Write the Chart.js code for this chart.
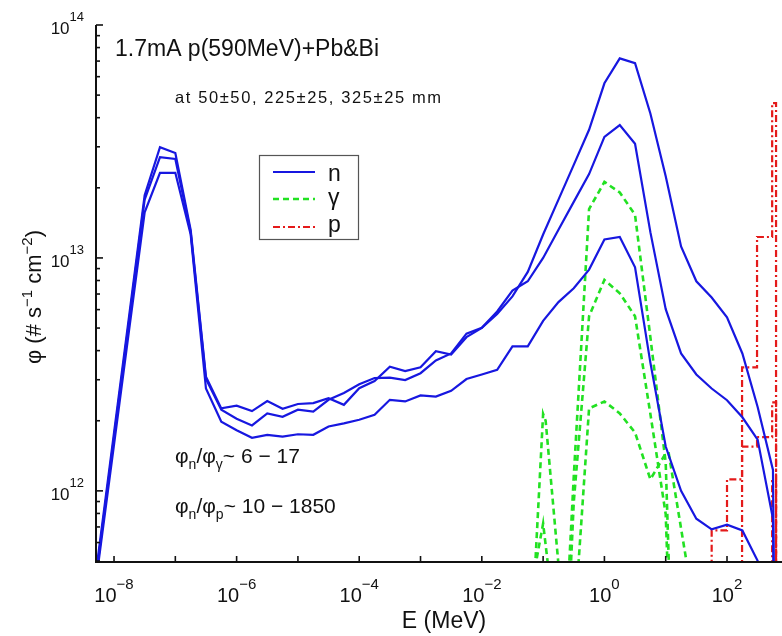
<!DOCTYPE html>
<html><head><meta charset="utf-8">
<script src="https://cdn.jsdelivr.net/npm/chart.js@4.4.0/dist/chart.umd.min.js"></script>
<style>html,body{margin:0;padding:0;background:#fff;}canvas{display:block;}</style>
</head><body>
<canvas id="c" width="782" height="636"></canvas>
<script>
// ---------- data (energies in MeV, fluxes in # s^-1 cm^-2) ----------
const energyN = [3.16e-9,5.62e-9,1e-8,1.78e-8,3.16e-8,5.62e-8,1e-7,1.78e-7,3.16e-7,5.62e-7,
  1e-6,1.78e-6,3.16e-6,5.62e-6,1e-5,1.78e-5,3.16e-5,5.62e-5,1e-4,1.78e-4,
  3.16e-4,5.62e-4,1e-3,1.78e-3,3.16e-3,5.62e-3,0.01,0.0178,0.0316,0.0562,
  0.1,0.178,0.316,0.562,1,1.78,3.16,5.62,10,17.8,31.6,56.2,100,178,316,562,631];
const fluxN1 = [1.70e11,5.50e11,1.78e12,5.75e12,1.86e13,2.99e13,2.82e13,1.32e13,3.09e12,2.26e12,
  2.32e12,2.20e12,2.43e12,2.25e12,2.36e12,2.38e12,2.50e12,2.34e12,2.76e12,2.96e12,
  3.41e12,3.27e12,3.39e12,3.98e12,3.85e12,4.57e12,5.01e12,5.75e12,6.84e12,8.71e12,
  1.26e13,1.78e13,2.51e13,3.55e13,5.62e13,7.19e13,6.86e13,4.17e13,2.24e13,1.12e13,
  7.94e12,6.76e12,5.56e12,3.89e12,2.29e12,1.23e12,3.16e10];
const fluxN2 = [1.62e11,5.25e11,1.70e12,5.50e12,1.78e13,2.71e13,2.66e13,1.29e13,3.02e12,2.23e12,
  2.04e12,1.91e12,2.15e12,2.08e12,2.23e12,2.19e12,2.46e12,2.63e12,2.87e12,3.05e12,
  3.06e12,2.99e12,3.20e12,3.63e12,3.89e12,4.73e12,5.01e12,5.89e12,7.24e12,7.94e12,
  1.00e13,1.32e13,1.74e13,2.29e13,3.31e13,3.72e13,3.09e13,1.29e13,6.03e12,3.89e12,
  3.16e12,2.75e12,2.45e12,2.07e12,1.66e12,7.59e11,3.16e10];
const fluxN3 = [1.58e11,5.01e11,1.58e12,5.01e12,1.57e13,2.32e13,2.32e13,1.26e13,2.75e12,1.98e12,
  1.82e12,1.69e12,1.74e12,1.71e12,1.75e12,1.74e12,1.89e12,1.95e12,2.02e12,2.12e12,
  2.46e12,2.42e12,2.57e12,2.54e12,2.69e12,3.02e12,3.16e12,3.31e12,4.17e12,4.17e12,
  5.37e12,6.46e12,7.41e12,8.91e12,1.20e13,1.23e13,9.12e12,3.55e12,1.55e12,1.00e12,
  7.59e11,6.84e11,7.16e11,6.76e11,5.01e11,2.00e11,3.16e10];

const energyG1 = [0.178,0.316,0.562,1,1.78,3.16,5.62,10,17.8];
const fluxG1   = [6.31e10,1.15e12,1.62e13,2.12e13,1.91e13,1.53e13,4.57e12,1.32e12,1e10];
const energyG2 = [0.0562,0.1,0.11,0.19,0.195,0.2,0.316,0.562,1,1.78,3.16,5.62,10,17.8];
const fluxG2   = [1.17e11,2.14e12,2.0e12,3.98e11,null,6.31e10,8.91e11,5.62e12,8.05e12,7.05e12,5.62e12,2.14e12,7.94e11,1e10];
const energyG3 = [0.0562,0.1,0.178,0.316,0.562,1,1.78,3.16,5.62,10,11.2,31.6];
const fluxG3   = [3.16e11,7.24e11,2.0e11,2.45e11,2.26e12,2.42e12,2.15e12,1.78e12,1.12e12,1.45e12,1.45e12,2.75e11];

const protonEdges = [56.2,100,176,309,545,631];
const fluxP1 = [null,null,3.39e12,1.23e13,4.62e13];
const fluxP2 = [6.76e11,1.12e12,1.55e12,1.70e12,2.4e12];
const fluxP3 = [null,null,null,null,1.1e12];

const xTickExps = [-8,-6,-4,-2,0,2];
const yTickExps = [12,13,14];
const xRange = [5.08e-9, 789];
const yRange = [4.95e11, 1e14];
const legendLabels = ['n','γ','p'];

// ---------- styles ----------
const BLUE = '#1717e0', GREEN = '#22e122', RED = '#e41a1a';
const FONT = '"Liberation Sans", Arial, Helvetica, sans-serif';
const FLOOR = 1e10;

function pts(xs, ys){ return xs.map((x,i)=>({x:x, y:ys[i]})); }
function histo(edges, vals){
  const out = [{x:edges[0], y:FLOOR}];
  vals.forEach((v,i)=>{ const y = v==null?FLOOR:v; out.push({x:edges[i],y:y}); out.push({x:edges[i+1],y:y}); });
  out.push({x:edges[edges.length-1], y:FLOOR});
  return out;
}
const nStyle = {borderColor:BLUE, borderWidth:2.2};
const gStyle = {borderColor:GREEN, borderWidth:2.6, borderDash:[6,4]};
const pStyle = {borderColor:RED, borderWidth:2.2, borderDash:[7,3,2,3]};

const datasets = [
  Object.assign({label:'n', data:pts(energyN,fluxN1)}, nStyle),
  Object.assign({label:'n2', data:pts(energyN,fluxN2)}, nStyle),
  Object.assign({label:'n3', data:pts(energyN,fluxN3)}, nStyle),
  Object.assign({label:'γ', data:pts(energyG1,fluxG1)}, gStyle),
  Object.assign({label:'γ2', data:pts(energyG2,fluxG2)}, gStyle),
  Object.assign({label:'γ3', data:pts(energyG3,fluxG3)}, gStyle),
  Object.assign({label:'p', data:histo(protonEdges,fluxP1)}, pStyle),
  Object.assign({label:'p2', data:histo(protonEdges,fluxP2)}, pStyle),
  Object.assign({label:'p3', data:histo(protonEdges,fluxP3)}, pStyle)
];

function runsWidth(ctx, runs){ let w=0; for(const r of runs){ ctx.font=r.size+'px '+FONT; w+=ctx.measureText(r.t).width; } return w; }
function drawRuns(ctx, x, y, runs, align){
  const w = runsWidth(ctx, runs);
  let cx = align==='right' ? x-w : align==='center' ? x-w/2 : x;
  ctx.textAlign='left'; ctx.textBaseline='alphabetic';
  for(const r of runs){ ctx.font=r.size+'px '+FONT; ctx.fillText(r.t, cx, y+(r.dy||0)); cx+=ctx.measureText(r.t).width; }
}
function expText(e){ return e<0 ? '\u2212'+(-e) : String(e); }

const decor = {
  id:'decor',
  afterDraw(chart){
    const ctx = chart.ctx, a = chart.chartArea, xs = chart.scales.x, ys = chart.scales.y;
    ctx.save();
    ctx.strokeStyle='#111'; ctx.fillStyle='#111';
    // axes
    ctx.lineWidth=2;
    ctx.beginPath(); ctx.moveTo(a.left, a.top); ctx.lineTo(a.left, a.bottom); ctx.lineTo(a.right, a.bottom); ctx.stroke();
    // y ticks (major + minor)
    ctx.lineWidth=1.6;
    for(let e=11;e<=14;e++){ for(let k=1;k<=9;k++){
      const v=k*Math.pow(10,e); if(v<ys.min*0.999||v>ys.max*1.001) continue;
      const py=ys.getPixelForValue(v), len=(k===1)?7:4;
      ctx.beginPath(); ctx.moveTo(a.left, py); ctx.lineTo(a.left+len, py); ctx.stroke();
    }}
    // x ticks
    for(let e=-8;e<=2;e++){
      const px=xs.getPixelForValue(Math.pow(10,e));
      ctx.beginPath(); ctx.moveTo(px, a.bottom); ctx.lineTo(px, a.bottom-6); ctx.stroke();
    }
    // tick labels
    for(const e of xTickExps){
      const px=xs.getPixelForValue(Math.pow(10,e));
      drawRuns(ctx, px, 602, [{t:'10',size:20},{t:expText(e),size:15,dy:-13}], 'center');
    }
    for(const e of yTickExps){
      const py=ys.getPixelForValue(Math.pow(10,e));
      drawRuns(ctx, 84, py+9, [{t:'10',size:17},{t:expText(e),size:13,dy:-13}], 'right');
    }
    // axis titles
    drawRuns(ctx, 444, 628, [{t:'E (MeV)',size:23}], 'center');
    ctx.save(); ctx.translate(41, 297); ctx.rotate(-Math.PI/2);
    drawRuns(ctx, 0, 0, [{t:'φ (# s',size:22},{t:'\u22121',size:15,dy:-9},{t:' cm',size:22},{t:'\u22122',size:15,dy:-9},{t:')',size:22}], 'center');
    ctx.restore();
    // titles
    drawRuns(ctx, 115, 56, [{t:'1.7mA p(590MeV)+Pb&Bi',size:23}], 'left');
    ctx.font='16.5px '+FONT; ctx.letterSpacing='1.6px'; ctx.textAlign='left';
    ctx.fillText('at 50±50, 225±25, 325±25 mm', 175, 103);
    ctx.letterSpacing='0px';
    // ratio annotations
    drawRuns(ctx, 175, 463, [{t:'φ',size:21},{t:'n',size:14,dy:6},{t:'/φ',size:21},{t:'γ',size:14,dy:6},{t:'~ 6 \u2212 17',size:21}], 'left');
    drawRuns(ctx, 175, 513, [{t:'φ',size:21},{t:'n',size:14,dy:6},{t:'/φ',size:21},{t:'p',size:14,dy:6},{t:'~ 10 \u2212 1850',size:21}], 'left');
    // legend
    ctx.lineWidth=1.2; ctx.strokeStyle='#555'; ctx.setLineDash([]);
    ctx.strokeRect(259.5, 155.5, 99, 84);
    const legDs=[0,3,6], rowsY=[172,199,227], txtY=[181,205,232];
    legDs.forEach((di,i)=>{
      const ds=chart.data.datasets[di];
      ctx.strokeStyle=ds.borderColor; ctx.lineWidth=ds.borderWidth; ctx.setLineDash(ds.borderDash||[]);
      ctx.beginPath(); ctx.moveTo(273, rowsY[i]); ctx.lineTo(315, rowsY[i]); ctx.stroke();
      ctx.setLineDash([]); ctx.fillStyle='#111';
      drawRuns(ctx, 328, txtY[i], [{t:legendLabels[i],size:23}], 'left');
    });
    ctx.restore();
  }
};

new Chart(document.getElementById('c'), {
  type:'line',
  data:{datasets:datasets},
  options:{
    responsive:false, animation:false, devicePixelRatio:1,
    layout:{padding:{left:96,right:0,top:25,bottom:74}},
    plugins:{legend:{display:false}, title:{display:false}, tooltip:{enabled:false}},
    elements:{point:{radius:0}, line:{tension:0}},
    spanGaps:false,
    scales:{
      x:{type:'logarithmic', min:xRange[0], max:xRange[1], display:false},
      y:{type:'logarithmic', min:yRange[0], max:yRange[1], display:false}
    }
  },
  plugins:[decor]
});
</script>
</body></html>
